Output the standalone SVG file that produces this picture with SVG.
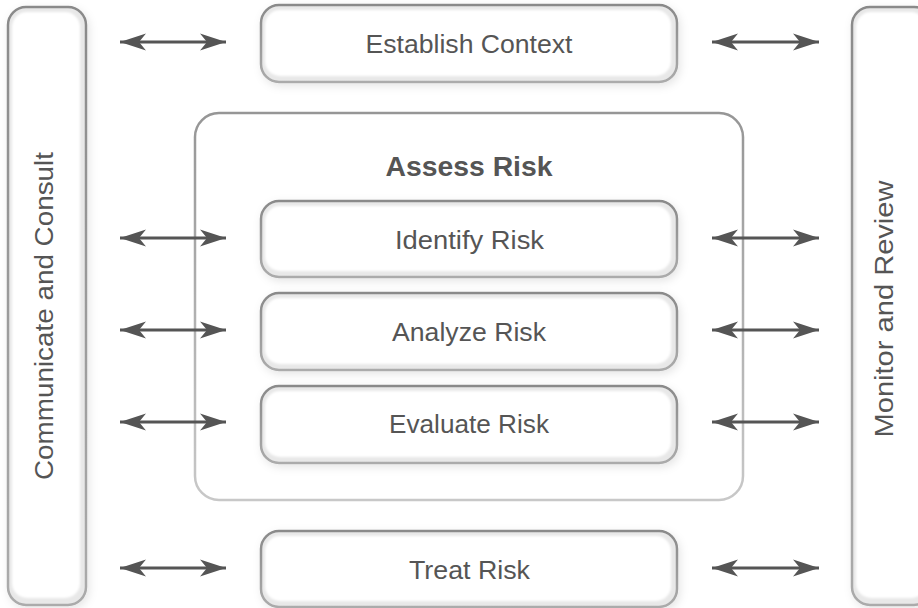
<svg xmlns="http://www.w3.org/2000/svg" width="918" height="608" viewBox="0 0 918 608">
  <style>
    .lbl { font-family: "Liberation Sans", Arial, sans-serif; font-size: 26px; fill: #555; text-anchor: middle; }
    .title { font-family: "Liberation Sans", Arial, sans-serif; font-size: 27px; font-weight: bold; fill: #555; text-anchor: middle; }
    .frame { fill: #e8e8e8; stroke: url(#rim); stroke-width: 2.5; filter: url(#shade); }
    .face { fill: #ffffff; filter: url(#soft); }
    .group { fill: #ffffff; stroke: url(#rimLight); stroke-width: 2.5; }
    .link { stroke: #555; stroke-width: 3; fill: none; marker-start: url(#head); marker-end: url(#head); }
  </style>
  <defs>
    <linearGradient id="rim" x1="0" y1="0" x2="0" y2="1">
      <stop offset="0" stop-color="#8a8a8a"/>
      <stop offset="1" stop-color="#ababab"/>
    </linearGradient>
    <linearGradient id="rimLight" x1="0" y1="0" x2="0" y2="1">
      <stop offset="0" stop-color="#969696"/>
      <stop offset="1" stop-color="#c8c8c8"/>
    </linearGradient>
    <filter id="shade" x="-10%" y="-10%" width="130%" height="130%">
      <feDropShadow dx="2" dy="3" stdDeviation="4" flood-color="#000" flood-opacity="0.10"/>
    </filter>
    <filter id="soft" x="-5%" y="-5%" width="110%" height="110%">
      <feGaussianBlur stdDeviation="1"/>
    </filter>
    <!-- barbed arrowhead, tip at the line end -->
    <marker id="head" viewBox="0 0 26 20" refX="26" refY="10" markerWidth="26" markerHeight="20" markerUnits="userSpaceOnUse" orient="auto-start-reverse">
      <path d="M26 10 L0 1.5 L7 10 L0 18.5 Z" fill="#555"/>
    </marker>
  </defs>

  <!-- side bands -->
  <g id="communicate-consult">
    <rect class="frame" x="8" y="7" width="78" height="598" rx="18"/>
    <rect class="face" x="12" y="12" width="68" height="586" rx="15"/>
    <text class="lbl" transform="translate(53 316) rotate(-90)" textLength="328" lengthAdjust="spacingAndGlyphs">Communicate and Consult</text>
  </g>
  <g id="monitor-review">
    <rect class="frame" x="852" y="7" width="80" height="598" rx="18"/>
    <rect class="face" x="856" y="12" width="70" height="586" rx="15"/>
    <text class="lbl" transform="translate(893 309) rotate(-90)" textLength="257" lengthAdjust="spacingAndGlyphs">Monitor and Review</text>
  </g>

  <!-- assessment group -->
  <g id="assess-risk">
    <rect class="group" x="195" y="113" width="548" height="387" rx="24"/>
    <text class="title" x="469" y="176" textLength="167" lengthAdjust="spacingAndGlyphs">Assess Risk</text>
  </g>

  <!-- process steps -->
  <g id="establish-context">
    <rect class="frame" x="261" y="5" width="416" height="77" rx="18"/>
    <rect class="face" x="265" y="10" width="406" height="66" rx="15"/>
    <text class="lbl" x="469" y="53" textLength="207" lengthAdjust="spacingAndGlyphs">Establish Context</text>
  </g>
  <g id="identify-risk">
    <rect class="frame" x="261" y="201" width="416" height="76" rx="18"/>
    <rect class="face" x="265" y="206" width="406" height="65" rx="15"/>
    <text class="lbl" x="469.5" y="249" textLength="149" lengthAdjust="spacingAndGlyphs">Identify Risk</text>
  </g>
  <g id="analyze-risk">
    <rect class="frame" x="261" y="293" width="416" height="77" rx="18"/>
    <rect class="face" x="265" y="298" width="406" height="66" rx="15"/>
    <text class="lbl" x="469" y="341" textLength="154" lengthAdjust="spacingAndGlyphs">Analyze Risk</text>
  </g>
  <g id="evaluate-risk">
    <rect class="frame" x="261" y="386" width="416" height="77" rx="18"/>
    <rect class="face" x="265" y="391" width="406" height="66" rx="15"/>
    <text class="lbl" x="469" y="433" textLength="160" lengthAdjust="spacingAndGlyphs">Evaluate Risk</text>
  </g>
  <g id="treat-risk">
    <rect class="frame" x="261" y="531" width="416" height="76" rx="18"/>
    <rect class="face" x="265" y="536" width="406" height="65" rx="15"/>
    <text class="lbl" x="469.5" y="579" textLength="121" lengthAdjust="spacingAndGlyphs">Treat Risk</text>
  </g>

  <!-- two-way connectors -->
  <g id="connectors">
    <line class="link" x1="120" y1="42" x2="226" y2="42"/>
    <line class="link" x1="712" y1="42" x2="819" y2="42"/>
    <line class="link" x1="120" y1="238" x2="226" y2="238"/>
    <line class="link" x1="712" y1="238" x2="819" y2="238"/>
    <line class="link" x1="120" y1="330" x2="226" y2="330"/>
    <line class="link" x1="712" y1="330" x2="819" y2="330"/>
    <line class="link" x1="120" y1="422" x2="226" y2="422"/>
    <line class="link" x1="712" y1="422" x2="819" y2="422"/>
    <line class="link" x1="120" y1="568" x2="226" y2="568"/>
    <line class="link" x1="712" y1="568" x2="819" y2="568"/>
  </g>
</svg>
